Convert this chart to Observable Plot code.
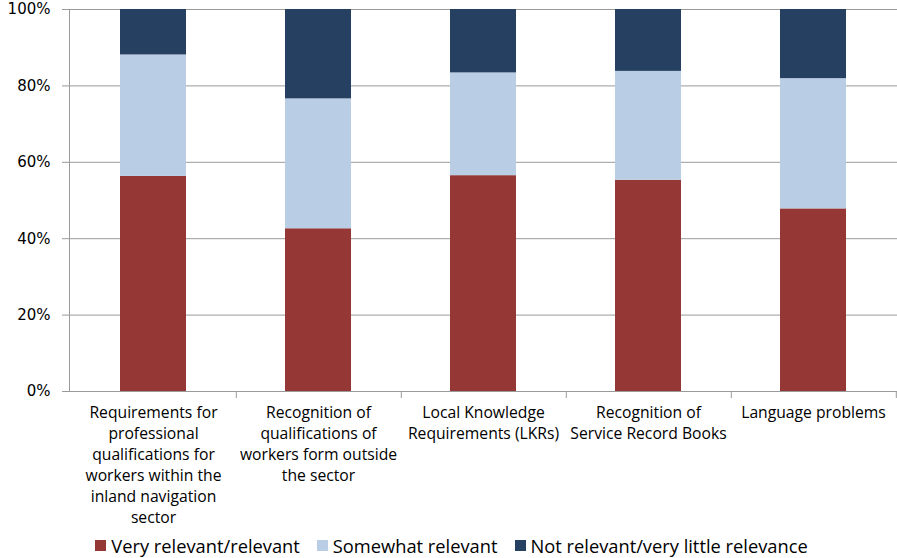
<!DOCTYPE html>
<html>
<head>
<meta charset="utf-8">
<script src="https://cdn.jsdelivr.net/npm/d3@7"></script>
<script src="https://cdn.jsdelivr.net/npm/@observablehq/plot@0.6"></script>
<style>
  html, body { margin: 0; padding: 0; background: #fff; }
  #chart { width: 897px; }
  .legend { display: flex; justify-content: center; align-items: center; gap: 17px;
            font-family: "Open Sans", sans-serif; font-size: 18.3px; color: #000; height: 28px;
            margin-top: 1px; padding-left: 6px; }
  .legend span.sw { display: inline-block; width: 11px; height: 11px; margin-right: 5px; }
  .legend .item { display: flex; align-items: center; }
</style>
</head>
<body>
<div id="chart"></div>
<script>
// Survey categories, with the line breaks used on the axis
const categories = [
  "Requirements for\nprofessional\nqualifications for\nworkers within the\ninland navigation\nsector",
  "Recognition of\nqualifications of\nworkers form outside\nthe sector",
  "Local Knowledge\nRequirements (LKRs)",
  "Recognition of\nService Record Books",
  "Language problems"
];

// Response series (share of answers, %)
const seriesNames = ["Very relevant/relevant", "Somewhat relevant", "Not relevant/very little relevance"];
const veryRelevant     = [56.3, 42.6, 56.5, 55.3, 47.8];
const somewhatRelevant = [31.8, 34.0, 26.9, 28.5, 34.1];
const notRelevant      = [11.9, 23.4, 16.6, 16.2, 18.1];
const seriesColors = ["#953735", "#B9CDE5", "#254061"];

const yTicks = [0, 20, 40, 60, 80, 100];

const seriesValues = [veryRelevant, somewhatRelevant, notRelevant];
const rows = [];
categories.forEach((c, i) => {
  seriesNames.forEach((s, j) => rows.push({category: c, series: s, value: seriesValues[j][i]}));
});

const W = 897, H = 530;
const mL = 69, mR = 0, mT = 9, mB = 139;
const step = (W - mL - mR) / categories.length;
const axisGray = "#9a9a9a";

const chart = Plot.plot({
  width: W,
  height: H,
  marginLeft: mL,
  marginRight: mR,
  marginTop: mT,
  marginBottom: mB,
  style: {fontFamily: "'Open Sans', sans-serif", fontSize: "15px", color: "#000", background: "#fff"},
  x: {domain: categories, paddingInner: 0.6, paddingOuter: 0.3, label: null},
  y: {domain: [0, 100], label: null},
  color: {domain: seriesNames, range: seriesColors},
  marks: [
    // horizontal gridlines, extended left as tick marks
    Plot.ruleY(yTicks, {stroke: axisGray, strokeWidth: 1, insetLeft: -7}),
    Plot.barY(rows, {x: "category", y: "value", fill: "series", order: seriesNames}),
    // y-axis line
    Plot.frame({anchor: "left", stroke: axisGray}),
    // category boundary ticks under the axis
    Plot.ruleX(categories, {x: d => d, y1: 0, y2: 0, insetBottom: -7, stroke: axisGray, dx: step / 2}),
    Plot.axisY(yTicks, {
      tickSize: 0, tickPadding: 19, tickFormat: d => d + "%",
      fontFamily: "DejaVu Sans, sans-serif", fontSize: 15
    }),
    Plot.axisX({
      tickSize: 0, tickPadding: 12, lineHeight: 1.33,
      fontFamily: "'Open Sans', sans-serif", fontSize: 15.7, lineWidth: 100
    })
  ]
});
document.getElementById("chart").appendChild(chart);

// legend below the plot
const legend = document.createElement("div");
legend.className = "legend";
seriesNames.forEach((s, j) => {
  const item = document.createElement("div");
  item.className = "item";
  const sw = document.createElement("span");
  sw.className = "sw";
  sw.style.background = seriesColors[j];
  item.appendChild(sw);
  item.appendChild(document.createTextNode(s));
  legend.appendChild(item);
});
document.getElementById("chart").appendChild(legend);
</script>
</body>
</html>
